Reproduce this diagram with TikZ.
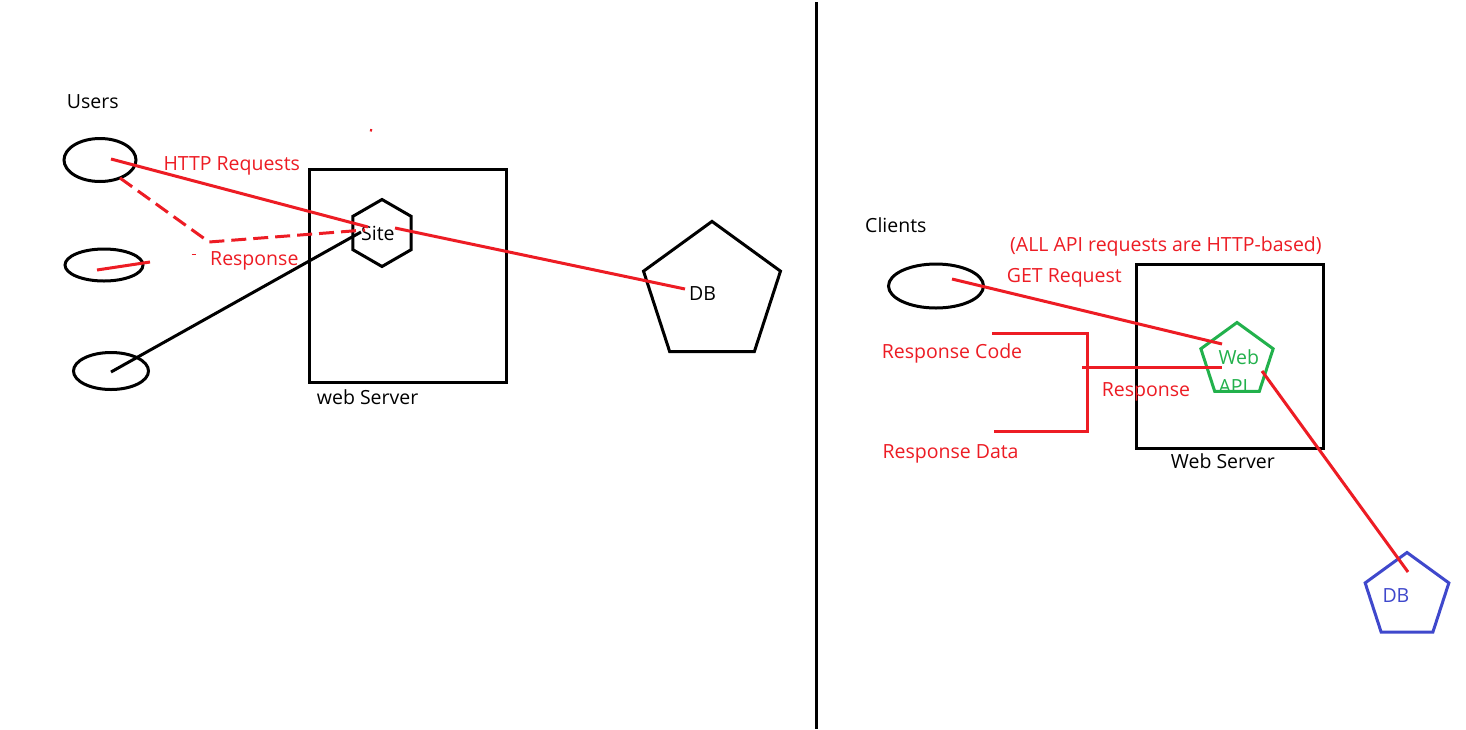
\documentclass[tikz,border=0pt]{standalone}
\usepackage{fontspec}
\setmainfont{Open Sans}
\usetikzlibrary{shapes.geometric}
\definecolor{pred}{RGB}{237,28,36}
\definecolor{pgreen}{RGB}{34,177,76}
\definecolor{pblue}{RGB}{63,72,204}
\begin{document}
\begin{tikzpicture}[x=1pt,y=-1pt,
  lbl/.style={font=\fontsize{19.5}{22}\selectfont, inner sep=0, anchor=base west},
  rlbl/.style={lbl, text=pred},
  glbl/.style={lbl, text=pgreen},
  blbl/.style={lbl, text=pblue},
  blk/.style={draw=black, line width=3pt},
  rln/.style={draw=pred, line width=3pt},
  user/.style={ellipse, draw=black, line width=3pt, inner sep=0},
  server/.style={rectangle, draw=black, line width=3pt, inner sep=0},
  pent/.style={regular polygon, regular polygon sides=5, inner sep=0, line width=3pt},
  hexa/.style={regular polygon, regular polygon sides=6, shape border rotate=30, inner sep=0, draw=black, line width=3pt}
]
\useasboundingbox[fill=white] (0,0) rectangle (1466,729);

% divider
\coordinate (divtop) at (816,2);
\coordinate (divbot) at (816,729);
\draw[blk] (divtop) -- (divbot);

% ---------- left side ----------
\node[user, minimum width=72, minimum height=43] (u1) at (100,160) {};
\node[user, minimum width=78, minimum height=32] (u2) at (104,265) {};
\node[user, minimum width=75, minimum height=37] (u3) at (111,371) {};
\node[server, minimum width=197, minimum height=213] (ws1) at (408,276) {};
\node[hexa, minimum size=67] (site) at (382,233) {};
\node[pent, draw=black, minimum size=144] (db1) at (712,293.4) {};

\node[lbl] (tusers) at (66.7,108.3) {Users};
\node[rlbl] (thttp) at (163.3,170.3) {HTTP Requests};
\node[rlbl] (tresp1) at (210,265.7) {Response};
\node[lbl] (tsite) at (361,240) {Site};
\node[lbl] (tws1) at (316.7,404) {web Server};
\node[lbl] (tdb1) at (689,300) {DB};

\coordinate (u1c) at (111,159);
\coordinate (sitein) at (368,227);
\coordinate (siteout) at (395,228);
\coordinate (db1in) at (685,289);
\coordinate (u1r) at (120,178);
\coordinate (bend) at (209,242);
\coordinate (sitedash) at (365,230);
\coordinate (u2a) at (97,270);
\coordinate (u2b) at (150,262);
\coordinate (u3c) at (111,372);
\coordinate (siteblk) at (361,232);

\draw[rln] (u1c) -- (sitein);
\draw[rln] (siteout) -- (db1in);
\draw[rln, dash pattern=on 15pt off 7pt] (u1r) -- (bend) -- (sitedash);
\draw[rln] (u2a) -- (u2b);
\draw[blk] (u3c) -- (siteblk);

% stray marks
\coordinate (dotA) at (370,130);
\coordinate (dotB) at (372,130.5);
\draw[rln, line width=2.5pt] (dotA) -- (dotB);
\coordinate (dashA) at (191.5,254.5);
\coordinate (dashB) at (195.5,254.5);
\draw[rln, line width=1.5pt] (dashA) -- (dashB);

% ---------- right side ----------
\node[lbl] (tclients) at (865,232.7) {Clients};
\node[rlbl] (tall) at (1010,251) {(ALL API requests are HTTP-based)};
\node[rlbl] (tget) at (1006.7,282.3) {GET Request};
\node[user, minimum width=95, minimum height=44] (client) at (936,286) {};
\node[server, minimum width=187, minimum height=184] (ws2) at (1230,356.5) {};
\node[pent, draw=pgreen, minimum size=76] (api) at (1237,360.5) {};
\node[pent, draw=pblue, minimum size=88] (db2) at (1407,596.5) {};

\node[glbl] (tweb) at (1218.3,364) {Web};
\node[glbl] (tapi) at (1218.3,393) {API};
\node[lbl] (tws2) at (1170.7,468) {Web Server};
\node[blbl] (tdb2) at (1382.3,602) {DB};
\node[rlbl] (tcode) at (881.7,358.3) {Response Code};
\node[rlbl] (tresp2) at (1101.7,396) {Response};
\node[rlbl] (tdata) at (882.3,458.3) {Response Data};

\coordinate (clc) at (952,279);
\coordinate (apiin) at (1222,344);
\coordinate (brTL) at (992,333);
\coordinate (brTR) at (1087,333);
\coordinate (brBR) at (1087,431);
\coordinate (brBL) at (994,431);
\coordinate (brM) at (1082,367);
\coordinate (apimid) at (1222,367);
\coordinate (apiout) at (1262,371);
\coordinate (db2in) at (1408,572);

\draw[rln] (clc) -- (apiin);
\draw[rln] (brTL) -- (brTR) -- (brBR) -- (brBL);
\draw[rln] (brM) -- (apimid);
\draw[rln] (apiout) -- (db2in);
\end{tikzpicture}
\end{document}
